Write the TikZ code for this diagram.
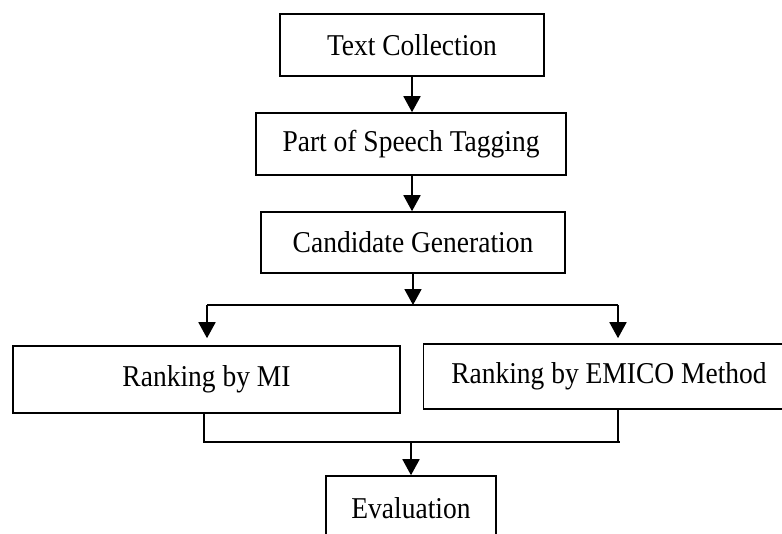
\documentclass[tikz,border=0pt]{standalone}
\usepackage{fontspec}
\setmainfont{Liberation Serif}
\usetikzlibrary{arrows.meta}
\newcommand{\tall}[1]{\scalebox{1}[1.1]{#1}}
\begin{document}
\begin{tikzpicture}[x=1pt,y=-1pt,
  box/.style={draw, line width=1.6pt, inner sep=0pt, align=center,
    font=\fontsize{27.5}{30}\selectfont},
  conn/.style={line width=1.8pt},
  arr/.style={conn, -{Triangle[length=16pt,width=17pt]}}]
\useasboundingbox (0,0) rectangle (782,533);
\clip (0,0) rectangle (782,533);
\fill[white] (0,0) rectangle (782,533);
\node[box, minimum width=264pt, minimum height=62pt] (tc) at (412,45) {\tall{Text Collection}};
\node[box, minimum width=310pt, minimum height=62pt] (pos) at (411,144) {\tall{Part of Speech Tagging}};
\node[box, minimum width=304pt, minimum height=61pt] (cg) at (413,242.5) {\tall{Candidate Generation}};
\node[box, minimum width=387pt, minimum height=67pt] (mi) at (206.5,379.5) {\tall{Ranking by MI}};
\node[box, minimum width=361pt, minimum height=65pt] (em) at (604,376.5) {\hspace*{10pt}\tall{Ranking by EMICO Method}};
\node[box, minimum width=170pt, minimum height=64pt] (ev) at (411,508) {\tall{Evaluation}};
\coordinate (split) at (413,305);
\coordinate (sl) at (207,305);
\coordinate (sr) at (618,305);
\coordinate (jl) at (204,442);
\coordinate (jr) at (620,442);
\coordinate (jm) at (411,442);
\draw[arr] (tc.south) -- (tc.south |- pos.north);
\draw[arr] (pos.south -| tc.south) -- (tc.south |- cg.north);
\draw[arr] (cg.south) -- (split);
\draw[conn] (sl) -- (sr);
\draw[arr] (sl) -- ([yshift=7pt]sl |- mi.north);
\draw[arr] (sr) -- ([yshift=5pt]sr |- em.north);
\draw[conn] (jl |- mi.south) -- (jl) -- (jr);
\draw[conn] (618,0 |- em.south) -- (618,442);
\draw[arr] (jm) -- (jm |- ev.north);
\end{tikzpicture}
\end{document}
